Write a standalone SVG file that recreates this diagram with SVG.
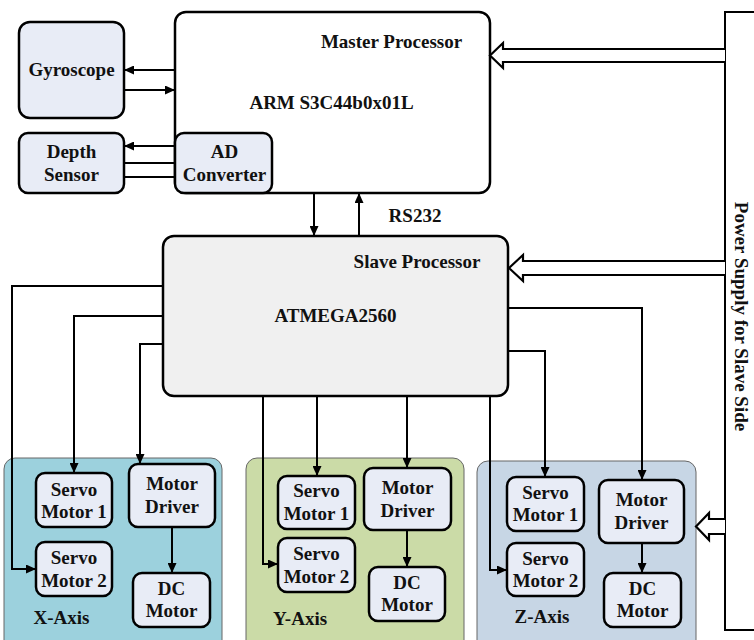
<svg xmlns="http://www.w3.org/2000/svg" width="754" height="640" viewBox="0 0 754 640">
<defs>
<marker id="ah" markerUnits="userSpaceOnUse" markerWidth="11" markerHeight="9" refX="10" refY="4.5" orient="auto">
<path d="M0,0 L10,4.5 L0,9 z" fill="#000"/>
</marker>
<style>
text{font-family:"Liberation Serif","Times New Roman",serif;font-weight:bold;font-size:19px;fill:#111;text-anchor:middle}
.box{fill:#e8ecf6;stroke:#000;stroke-width:2.5}
.big{stroke:#000;stroke-width:2.5}
.panel{stroke:#666;stroke-width:1}
.ln{fill:none;stroke:#000;stroke-width:2}
.arr{fill:none;stroke:#000;stroke-width:2;marker-end:url(#ah)}
.hol{fill:#fff;stroke:#000;stroke-width:2.2;stroke-linejoin:miter}
</style>
</defs>
<rect width="754" height="640" fill="#fff"/>

<g id="power">
<rect x="725" y="12" width="60" height="618" fill="#fff" stroke="#000" stroke-width="2"/>
<text transform="translate(735,316.5) rotate(90)">Power Supply for Slave Side</text>
</g>

<g id="x-axis-panel">
<rect class="panel" x="4" y="458" width="218" height="200" rx="11" fill="#9cd1dd"/>
<text x="61.5" y="624">X-Axis</text>
</g>
<g id="y-axis-panel">
<rect class="panel" x="246" y="458" width="218" height="200" rx="11" fill="#cbdba7"/>
<text x="300" y="625">Y-Axis</text>
</g>
<g id="z-axis-panel">
<rect class="panel" x="477" y="461" width="219" height="200" rx="11" fill="#c7d6e5"/>
<text x="542" y="623">Z-Axis</text>
</g>

<g id="master">
<rect class="big" x="175" y="12" width="315" height="181" rx="11" fill="#fff"/>
<text x="391.5" y="48">Master Processor</text>
<text x="331.5" y="109">ARM S3C44b0x01L</text>
</g>
<g id="ad-converter">
<rect class="box" x="175" y="133" width="97" height="60" rx="9"/>
<text x="224.5" y="158">AD</text>
<text x="224.5" y="181">Converter</text>
</g>
<g id="gyroscope">
<rect class="box" x="19" y="22" width="105" height="96" rx="11"/>
<text x="71.5" y="76">Gyroscope</text>
</g>
<g id="depth-sensor">
<rect class="box" x="19" y="133" width="105" height="60" rx="9"/>
<text x="71.5" y="158">Depth</text>
<text x="71.5" y="181">Sensor</text>
</g>
<g id="slave">
<rect class="big" x="163" y="236" width="345" height="160" rx="11" fill="#f0f0f0"/>
<text x="417" y="268">Slave Processor</text>
<text x="335.5" y="322">ATMEGA2560</text>
</g>
<text x="415" y="222">RS232</text>

<g id="x-servo1"><rect class="box" x="36" y="473" width="76" height="54" rx="9"/><text x="74" y="496">Servo</text><text x="74" y="518">Motor 1</text></g>
<g id="x-servo2"><rect class="box" x="36" y="542" width="76" height="54" rx="9"/><text x="74" y="564">Servo</text><text x="74" y="587">Motor 2</text></g>
<g id="x-driver"><rect class="box" x="129" y="464" width="86" height="63" rx="9"/><text x="172" y="490">Motor</text><text x="172" y="513">Driver</text></g>
<g id="x-dc"><rect class="box" x="133" y="573" width="77" height="54" rx="9"/><text x="171.5" y="595">DC</text><text x="171.5" y="617">Motor</text></g>

<g id="y-servo1"><rect class="box" x="278" y="476" width="77" height="53" rx="9"/><text x="316.5" y="497">Servo</text><text x="316.5" y="520">Motor 1</text></g>
<g id="y-servo2"><rect class="box" x="278" y="538" width="77" height="54" rx="9"/><text x="316.5" y="560">Servo</text><text x="316.5" y="583">Motor 2</text></g>
<g id="y-driver"><rect class="box" x="364" y="468" width="87" height="62" rx="9"/><text x="407.5" y="494">Motor</text><text x="407.5" y="517">Driver</text></g>
<g id="y-dc"><rect class="box" x="369" y="567" width="76" height="54" rx="9"/><text x="407" y="589">DC</text><text x="407" y="611">Motor</text></g>

<g id="z-servo1"><rect class="box" x="507" y="477" width="77" height="54" rx="9"/><text x="545.5" y="499">Servo</text><text x="545.5" y="521">Motor 1</text></g>
<g id="z-servo2"><rect class="box" x="507" y="543" width="77" height="53" rx="9"/><text x="545.5" y="565">Servo</text><text x="545.5" y="587">Motor 2</text></g>
<g id="z-driver"><rect class="box" x="599" y="480" width="85" height="63" rx="9"/><text x="641.5" y="506">Motor</text><text x="641.5" y="529">Driver</text></g>
<g id="z-dc"><rect class="box" x="604" y="573" width="77" height="54" rx="9"/><text x="642.5" y="595">DC</text><text x="642.5" y="617">Motor</text></g>

<g id="connectors">
<path class="arr" d="M175,70 H124"/>
<path class="arr" d="M124,90 H175"/>
<path class="arr" d="M175,146 H124"/>
<path class="ln" d="M124,163 H175 M124,177 H175"/>
<path class="arr" d="M314,193 V236"/>
<path class="arr" d="M359,236 V193"/>
<path class="arr" d="M163,286 H12 V569 H36"/>
<path class="arr" d="M163,316 H74 V473"/>
<path class="arr" d="M163,344 H140 V464"/>
<path class="arr" d="M172,527 V573"/>
<path class="arr" d="M263,396 V564 H278"/>
<path class="arr" d="M317,396 V476"/>
<path class="arr" d="M407,396 V468"/>
<path class="arr" d="M407,530 V567"/>
<path class="arr" d="M490,396 V570 H507"/>
<path class="arr" d="M508,308 H642 V480"/>
<path class="arr" d="M508,351 H545 V477"/>
<path class="arr" d="M642,543 V573"/>
<path class="hol" d="M725,49 H503 V43 L490,55.5 L503,68 V62 H725"/>
<path class="hol" d="M725,261 H523 V255 L509,268 L523,281 V275 H725"/>
<path class="hol" d="M725,519 H709 V513 L696,526.5 L709,540 V534 H725"/>
</g>
</svg>
